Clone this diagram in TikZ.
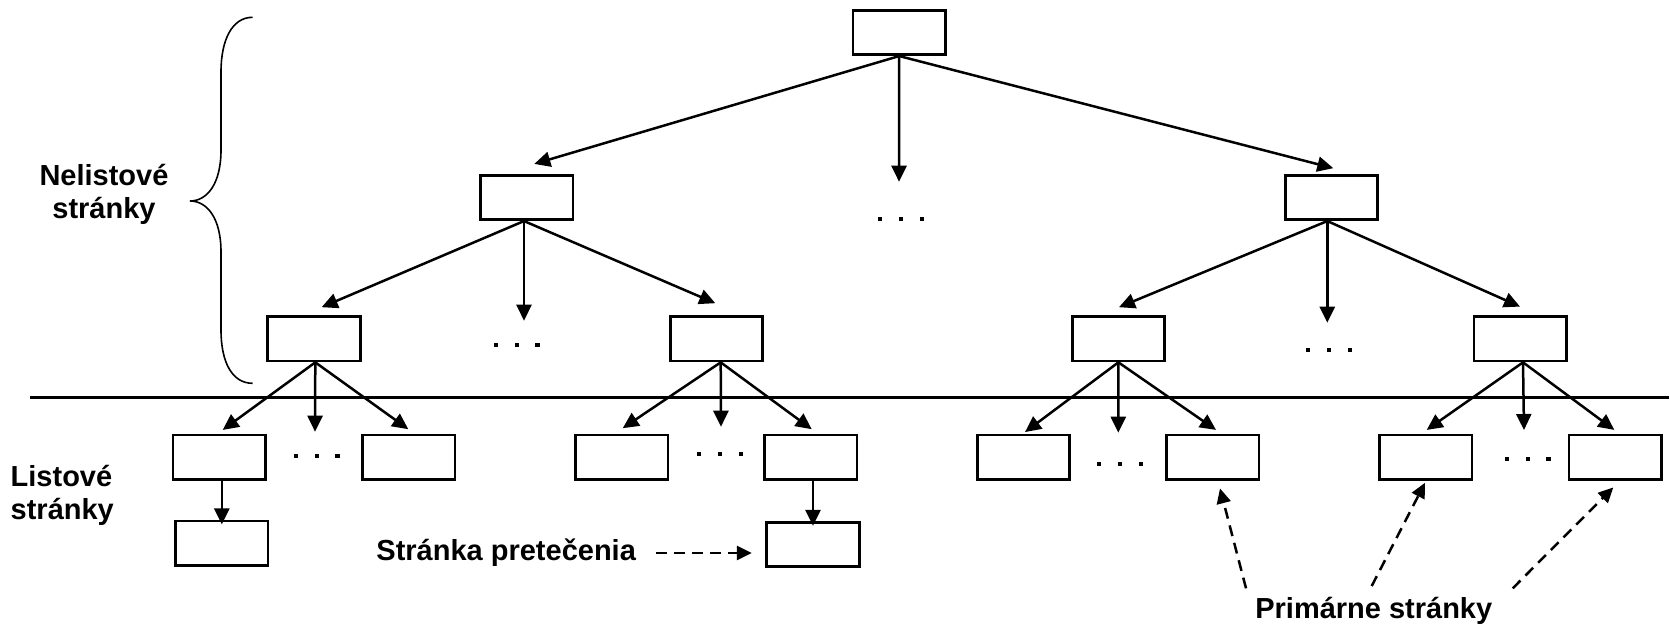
\documentclass[tikz,border=0pt]{standalone}
\usepackage{fontspec}
\setmainfont{Liberation Sans}
\usetikzlibrary{arrows.meta}
\begin{document}
\begin{tikzpicture}[x=1pt,y=-1pt,
  page/.style={draw, line width=2.8pt, minimum width=92.5pt, minimum height=44.5pt, inner sep=0pt},
  link/.style={line width=2.5pt, -{Triangle[length=16pt,width=15pt]}},
  hint/.style={line width=2.5pt, dash pattern=on 11pt off 7pt, -{Triangle[length=15pt,width=14pt]}},
  lbl/.style={font=\fontsize{29}{33}\selectfont\bfseries, inner sep=0pt},
  ellip/.pic={\foreach \dx in {-20.7,0,20.7} \fill (\dx-2.1,-2.1) rectangle (\dx+2.1,2.1);},
]
\useasboundingbox (0,0) rectangle (1670,633);

% root, inner levels
\node[page] (top) at (899.2,32.4) {};
\node[page] (m1) at (526.8,197.4) {};
\node[page] (m2) at (1331.5,197.4) {};
\node[page] (a) at (314,338.7) {};
\node[page] (b) at (716.5,338.7) {};
\node[page] (c) at (1118.4,338.7) {};
\node[page] (d) at (1520.2,338.7) {};

% leaf level
\node[page] (l1) at (219.3,457.2) {};
\node[page] (l2) at (408.7,457.2) {};
\node[page] (l3) at (621.7,457.2) {};
\node[page] (l4) at (810.8,457.2) {};
\node[page] (l5) at (1023.5,457.2) {};
\node[page] (l6) at (1212.8,457.2) {};
\node[page] (l7) at (1425.8,457.2) {};
\node[page] (l8) at (1615.2,457.2) {};

% overflow pages
\node[page] (o1) at (221.8,543.3) {};
\node[page] (o4) at (813,544.5) {};

% ends of the open "more children" arrows
\coordinate (d0) at (899,181.7);
\coordinate (d1) at (524,320.7);
\coordinate (d2) at (1327.3,322.7);
\coordinate (d3) at (315,431.7);
\coordinate (d4) at (721,426.7);
\coordinate (d5) at (1118.3,432.7);
\coordinate (d6) at (1524,430);

% root -> level 2
\draw[link] (top.south) -- ([shift={(7.5,-9.85)}]m1.north);
\draw[link] (top.south) -- (d0);
\draw[link] (top.south) -- ([shift={(1.8,-5.55)}]m2.north);

% level 2 -> level 3
\draw[link] ([xshift=-2.8]m1.south) -- ([shift={(7.7,-7.85)}]a.north);
\draw[link] ([xshift=-2.8]m1.south) -- (d1);
\draw[link] ([xshift=-2.8]m1.south) -- ([shift={(-1.2,-11.85)}]b.north);
\draw[link] ([xshift=-4.2]m2.south) -- ([shift={(0.6,-7.85)}]c.north);
\draw[link] ([xshift=-4.2]m2.south) -- (d2);
\draw[link] ([xshift=-4.2]m2.south) -- ([shift={(-0.2,-8.45)}]d.north);

% level 3 -> leaves
\draw[link] ([xshift=1.3]a.south) -- ([shift={(3.4,-3.65)}]l1.north);
\draw[link] ([xshift=1.3]a.south) -- (d3);
\draw[link] ([xshift=1.3]a.south) -- ([shift={(-0.4,-4.35)}]l2.north);
\draw[link] ([xshift=4.2]b.south) -- ([shift={(1,-5.35)}]l3.north);
\draw[link] ([xshift=4.2]b.south) -- (d4);
\draw[link] ([xshift=4.2]b.south) -- ([shift={(0.9,-4.35)}]l4.north);
\draw[link] (c.south) -- ([shift={(1.5,-1.5)}]l5.north);
\draw[link] (c.south) -- (d5);
\draw[link] (c.south) -- ([shift={(3.2,-3.65)}]l6.north);
\draw[link] ([xshift=2.8]d.south) -- ([shift={(0.9,-3.65)}]l7.north);
\draw[link] ([xshift=2.8]d.south) -- (d6);
\draw[link] ([xshift=2.8]d.south) -- ([shift={(-0.9,-3.65)}]l8.north);

% leaves -> overflow pages
\draw[link] (l1.south -| o1.north) -- ([yshift=-4.8]o1.north);
\draw[link] (l4.south -| o4.north) -- ([yshift=-5]o4.north);

% elided siblings
\pic at (901,219.3) {ellip};
\pic at (516.7,345) {ellip};
\pic at (1329,350.3) {ellip};
\pic at (316.7,456) {ellip};
\pic at (720,454.3) {ellip};
\pic at (1120,464) {ellip};
\pic at (1527.7,458.7) {ellip};

% boundary between inner and leaf pages
\draw[line width=2.8pt] (30,397.3) -- (1669,397.3);

% brace over the inner levels
\draw[line width=1.6pt] (252.6,17.3) .. controls (232,17.3) and (221,40) .. (221,72)
  -- (221,150) .. controls (221,184) and (207,201) .. (190,201)
  .. controls (207,201) and (221,218) .. (221,252)
  -- (221,330) .. controls (221,362) and (232,383.3) .. (252.6,383.3);

% labels
\node[lbl, align=center] (nel) at (104,194.7) {Nelistové\\stránky};
\node[lbl, align=left, anchor=west] (lst) at (10.5,495) {Listové\\stránky};
\node[lbl, anchor=base] (spt) at (506.2,560.7) {Stránka pretečenia};
\node[lbl, anchor=base] (ps) at (1373.8,618.3) {Primárne stránky};

% annotation arrows
\draw[hint] ([shift={(20.3,-7.7)}]spt.base east) -- ([shift={(-13.5,8.5)}]o4.west);
\draw[hint] ([shift={(-127.8,-30)}]ps.base) -- ([shift={(7.2,7.55)}]l6.south);
\draw[hint] ([shift={(-2.1,-32.3)}]ps.base) -- ([shift={(-0.8,1.95)}]l7.south);
\draw[hint] ([shift={(138.9,-30)}]ps.base) -- ([shift={(-1.9,6.55)}]l8.south);
\end{tikzpicture}
\end{document}
